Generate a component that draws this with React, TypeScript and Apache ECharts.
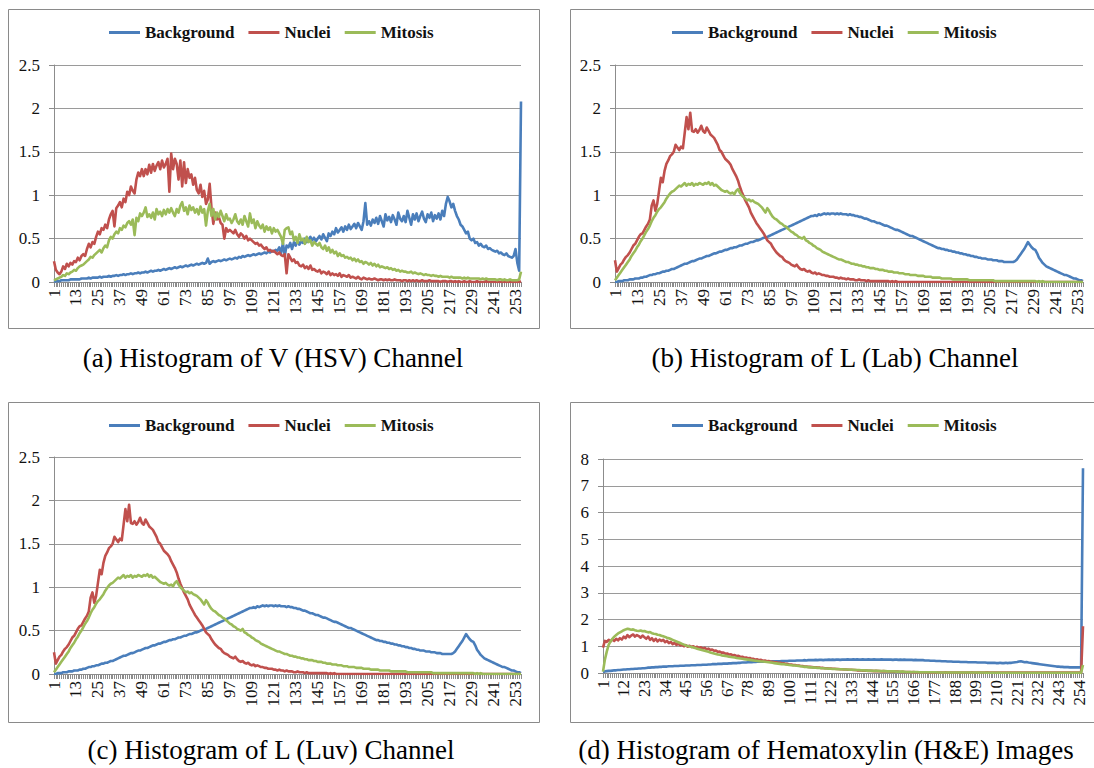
import React, { useEffect, useRef } from "react";
import * as echarts from "echarts";

// Category labels 1..256 (intensity bins)
const CATEGORIES: string[] = Array.from({ length: 256 }, (_, i) => String(i + 1));
const SERIES_NAMES = ["Background", "Nuclei", "Mitosis"];

// (a) V (HSV) channel
const V_BACKGROUND = [
  0.00,0.01,0.01,0.01,0.02,0.02,0.02,0.02,0.02,0.03,0.03,0.03,0.03,0.03,0.03,0.04,
  0.04,0.04,0.04,0.05,0.04,0.05,0.05,0.05,0.05,0.06,0.05,0.06,0.06,0.06,0.07,0.06,
  0.07,0.07,0.08,0.07,0.08,0.08,0.09,0.08,0.09,0.09,0.10,0.09,0.10,0.10,0.11,0.10,
  0.11,0.11,0.12,0.11,0.12,0.13,0.12,0.13,0.13,0.14,0.13,0.14,0.15,0.14,0.15,0.16,
  0.15,0.16,0.17,0.16,0.17,0.18,0.17,0.18,0.19,0.18,0.19,0.20,0.19,0.20,0.21,0.20,
  0.21,0.22,0.21,0.22,0.27,0.21,0.23,0.24,0.23,0.24,0.25,0.24,0.25,0.26,0.25,0.26,
  0.27,0.26,0.27,0.28,0.27,0.29,0.28,0.30,0.29,0.30,0.31,0.30,0.31,0.32,0.31,0.32,
  0.33,0.32,0.33,0.34,0.33,0.35,0.34,0.36,0.35,0.37,0.36,0.40,0.33,0.45,0.30,0.42,
  0.40,0.45,0.38,0.46,0.42,0.48,0.43,0.47,0.45,0.50,0.46,0.49,0.52,0.48,0.51,0.47,
  0.50,0.53,0.49,0.55,0.51,0.47,0.56,0.53,0.58,0.55,0.62,0.57,0.60,0.63,0.58,0.64,
  0.60,0.66,0.61,0.64,0.67,0.62,0.68,0.64,0.60,0.70,0.91,0.66,0.70,0.65,0.72,0.68,
  0.74,0.67,0.76,0.70,0.64,0.78,0.71,0.75,0.69,0.77,0.72,0.66,0.80,0.73,0.70,0.76,
  0.69,0.82,0.74,0.66,0.78,0.72,0.79,0.70,0.76,0.81,0.73,0.69,0.78,0.74,0.80,0.70,
  0.77,0.73,0.79,0.72,0.82,0.76,0.90,0.98,0.93,0.86,0.90,0.82,0.76,0.72,0.66,0.64,
  0.60,0.56,0.58,0.50,0.48,0.50,0.45,0.46,0.42,0.44,0.41,0.40,0.42,0.38,0.39,0.37,
  0.36,0.35,0.36,0.33,0.34,0.32,0.31,0.33,0.30,0.29,0.28,0.30,0.38,0.22,0.13,2.08,
];
const V_NUCLEI = [
  0.24,0.14,0.11,0.09,0.12,0.18,0.15,0.21,0.18,0.22,0.20,0.24,0.23,0.28,0.25,0.30,
  0.32,0.30,0.38,0.44,0.40,0.46,0.44,0.52,0.58,0.55,0.62,0.60,0.66,0.62,0.72,0.78,
  0.82,0.64,0.85,0.88,0.92,0.86,0.96,0.92,1.04,1.00,1.10,1.05,1.02,1.18,1.26,1.22,
  1.30,1.22,1.30,1.24,1.35,1.26,1.36,1.28,1.34,1.38,1.30,1.40,1.32,1.36,1.42,1.04,
  1.48,1.30,1.42,1.36,1.18,1.40,1.10,1.38,1.14,1.30,1.20,1.24,1.12,1.20,1.06,1.02,
  1.12,0.98,1.05,0.90,0.95,1.13,0.85,0.67,0.80,0.72,0.75,0.68,0.66,0.50,0.62,0.58,
  0.60,0.58,0.56,0.60,0.55,0.52,0.56,0.54,0.50,0.53,0.48,0.50,0.48,0.46,0.44,0.45,
  0.42,0.43,0.40,0.38,0.40,0.36,0.37,0.35,0.36,0.34,0.32,0.34,0.31,0.30,0.32,0.10,
  0.32,0.28,0.24,0.26,0.22,0.23,0.19,0.18,0.20,0.16,0.18,0.15,0.19,0.14,0.15,0.13,
  0.12,0.14,0.10,0.12,0.11,0.09,0.12,0.08,0.10,0.08,0.09,0.07,0.10,0.06,0.08,0.07,
  0.06,0.08,0.05,0.06,0.05,0.04,0.06,0.04,0.03,0.05,0.04,0.03,0.04,0.03,0.03,0.04,
  0.03,0.02,0.03,0.03,0.02,0.03,0.02,0.03,0.02,0.02,0.03,0.02,0.02,0.02,0.01,0.02,
  0.02,0.01,0.02,0.01,0.02,0.01,0.02,0.01,0.01,0.02,0.01,0.01,0.01,0.02,0.01,0.01,
  0.01,0.01,0.01,0.00,0.01,0.01,0.01,0.00,0.01,0.01,0.00,0.01,0.00,0.01,0.00,0.00,
  0.01,0.00,0.00,0.01,0.00,0.00,0.00,0.01,0.00,0.00,0.00,0.00,0.01,0.00,0.00,0.00,
  0.00,0.00,0.00,0.00,0.00,0.00,0.00,0.00,0.00,0.00,0.00,0.00,0.00,0.00,0.00,0.01,
];
const V_MITOSIS = [
  0.02,0.03,0.04,0.05,0.06,0.08,0.07,0.10,0.09,0.11,0.12,0.14,0.13,0.16,0.18,0.19,
  0.20,0.22,0.24,0.26,0.29,0.28,0.31,0.33,0.35,0.37,0.34,0.39,0.42,0.40,0.48,0.52,
  0.50,0.55,0.58,0.56,0.62,0.60,0.65,0.63,0.68,0.70,0.66,0.72,0.54,0.74,0.70,0.79,
  0.76,0.80,0.86,0.75,0.78,0.74,0.80,0.72,0.84,0.78,0.81,0.76,0.83,0.78,0.84,0.80,
  0.85,0.80,0.76,0.84,0.80,0.88,0.92,0.82,0.86,0.78,0.88,0.83,0.86,0.80,0.84,0.78,
  0.87,0.80,0.84,0.65,0.82,0.90,0.76,0.84,0.72,0.80,0.75,0.82,0.76,0.70,0.78,0.72,
  0.73,0.68,0.72,0.78,0.70,0.67,0.72,0.66,0.76,0.70,0.64,0.79,0.68,0.72,0.62,0.70,
  0.65,0.62,0.66,0.58,0.64,0.60,0.63,0.56,0.62,0.58,0.60,0.56,0.52,0.44,0.60,0.62,
  0.63,0.55,0.58,0.48,0.52,0.45,0.55,0.48,0.50,0.44,0.52,0.46,0.48,0.42,0.46,0.44,
  0.42,0.45,0.40,0.38,0.42,0.36,0.40,0.34,0.37,0.33,0.35,0.30,0.33,0.30,0.31,0.28,
  0.29,0.27,0.28,0.25,0.27,0.24,0.26,0.23,0.24,0.21,0.23,0.22,0.20,0.22,0.19,0.21,
  0.18,0.20,0.17,0.18,0.17,0.16,0.17,0.15,0.16,0.14,0.15,0.13,0.14,0.12,0.13,0.12,
  0.12,0.11,0.11,0.12,0.10,0.11,0.10,0.09,0.10,0.09,0.08,0.09,0.08,0.08,0.07,0.08,
  0.07,0.07,0.06,0.07,0.06,0.06,0.06,0.06,0.05,0.06,0.05,0.05,0.05,0.05,0.05,0.04,
  0.05,0.04,0.05,0.04,0.04,0.04,0.04,0.04,0.04,0.03,0.04,0.03,0.04,0.03,0.03,0.03,
  0.03,0.03,0.02,0.03,0.03,0.02,0.03,0.02,0.02,0.03,0.02,0.02,0.02,0.02,0.03,0.12,
];

// (b) L (Lab) channel and (c) L (Luv) channel (identical lightness)
const L_BACKGROUND = [
  0.00,0.00,0.01,0.01,0.01,0.02,0.02,0.02,0.03,0.03,0.03,0.04,0.04,0.04,0.05,0.05,
  0.06,0.06,0.07,0.08,0.08,0.09,0.09,0.10,0.10,0.11,0.12,0.12,0.13,0.13,0.14,0.15,
  0.15,0.16,0.17,0.18,0.19,0.20,0.21,0.21,0.22,0.23,0.24,0.24,0.25,0.26,0.27,0.27,
  0.28,0.29,0.30,0.30,0.31,0.32,0.33,0.33,0.34,0.35,0.35,0.36,0.37,0.37,0.38,0.39,
  0.39,0.40,0.40,0.41,0.42,0.42,0.43,0.44,0.44,0.45,0.46,0.46,0.47,0.48,0.48,0.49,
  0.50,0.51,0.51,0.52,0.53,0.54,0.55,0.56,0.57,0.58,0.59,0.60,0.61,0.62,0.63,0.64,
  0.65,0.66,0.67,0.68,0.69,0.70,0.71,0.72,0.73,0.74,0.75,0.76,0.76,0.77,0.76,0.78,
  0.77,0.78,0.79,0.78,0.79,0.78,0.79,0.79,0.78,0.79,0.78,0.79,0.78,0.78,0.78,0.77,
  0.78,0.77,0.77,0.76,0.76,0.75,0.75,0.74,0.73,0.73,0.72,0.71,0.70,0.70,0.69,0.68,
  0.68,0.67,0.66,0.65,0.65,0.64,0.63,0.62,0.61,0.60,0.60,0.59,0.58,0.57,0.56,0.55,
  0.54,0.53,0.53,0.52,0.51,0.50,0.49,0.48,0.47,0.46,0.45,0.44,0.43,0.42,0.41,0.40,
  0.39,0.39,0.38,0.38,0.37,0.37,0.36,0.36,0.35,0.35,0.34,0.34,0.33,0.33,0.32,0.32,
  0.31,0.31,0.30,0.30,0.29,0.29,0.28,0.28,0.27,0.27,0.27,0.26,0.26,0.26,0.25,0.25,
  0.25,0.24,0.24,0.24,0.23,0.23,0.23,0.23,0.23,0.23,0.24,0.26,0.29,0.32,0.35,0.38,
  0.42,0.46,0.43,0.40,0.38,0.37,0.33,0.28,0.25,0.22,0.20,0.18,0.17,0.16,0.15,0.14,
  0.13,0.12,0.11,0.10,0.09,0.08,0.08,0.07,0.06,0.05,0.04,0.04,0.03,0.02,0.02,0.01,
];
const L_NUCLEI = [
  0.25,0.12,0.16,0.20,0.22,0.26,0.29,0.31,0.34,0.38,0.42,0.44,0.48,0.52,0.55,0.56,
  0.60,0.64,0.67,0.72,0.88,0.94,0.82,0.90,1.05,1.20,1.15,1.28,1.36,1.40,1.45,1.47,
  1.50,1.58,1.55,1.52,1.56,1.54,1.72,1.90,1.76,1.95,1.74,1.73,1.76,1.72,1.75,1.80,
  1.74,1.72,1.78,1.74,1.70,1.68,1.66,1.62,1.58,1.52,1.50,1.46,1.42,1.40,1.38,1.35,
  1.30,1.26,1.22,1.17,1.10,1.04,0.99,0.94,0.90,0.86,0.80,0.76,0.72,0.68,0.65,0.62,
  0.59,0.56,0.52,0.48,0.46,0.44,0.40,0.37,0.34,0.32,0.30,0.29,0.26,0.24,0.23,0.22,
  0.20,0.19,0.18,0.20,0.17,0.15,0.14,0.15,0.13,0.12,0.13,0.11,0.10,0.11,0.09,0.10,
  0.09,0.08,0.08,0.07,0.07,0.06,0.06,0.06,0.05,0.05,0.04,0.05,0.04,0.04,0.03,0.04,
  0.03,0.03,0.03,0.02,0.02,0.03,0.02,0.02,0.02,0.01,0.02,0.01,0.01,0.01,0.01,0.01,
  0.01,0.01,0.01,0.01,0.01,0.01,0.00,0.01,0.00,0.01,0.00,0.00,0.00,0.00,0.00,0.00,
  0.00,0.00,0.00,0.00,0.00,0.00,0.00,0.00,0.00,0.00,0.00,0.00,0.00,0.00,0.00,0.00,
  0.00,0.00,0.00,0.00,0.00,0.00,0.00,0.00,0.00,0.00,0.00,0.00,0.00,0.00,0.00,0.00,
  0.00,0.00,0.00,0.00,0.00,0.00,0.00,0.00,0.00,0.00,0.00,0.00,0.00,0.00,0.00,0.00,
  0.00,0.00,0.00,0.00,0.00,0.00,0.00,0.00,0.00,0.00,0.00,0.00,0.00,0.00,0.00,0.00,
  0.00,0.00,0.00,0.00,0.00,0.00,0.00,0.00,0.00,0.00,0.00,0.00,0.00,0.00,0.00,0.00,
  0.00,0.00,0.00,0.00,0.00,0.00,0.00,0.00,0.00,0.00,0.00,0.00,0.00,0.00,0.00,0.00,
];
const L_MITOSIS = [
  0.02,0.05,0.08,0.11,0.14,0.17,0.20,0.23,0.26,0.30,0.33,0.36,0.40,0.43,0.47,0.50,
  0.54,0.58,0.61,0.65,0.70,0.74,0.77,0.81,0.84,0.86,0.89,0.92,0.96,0.99,1.02,1.04,
  1.05,1.07,1.09,1.11,1.10,1.12,1.14,1.11,1.13,1.12,1.14,1.11,1.13,1.12,1.14,1.13,
  1.12,1.14,1.13,1.15,1.12,1.14,1.11,1.12,1.10,1.08,1.06,1.05,1.04,1.05,1.03,1.02,
  1.03,1.01,1.05,1.07,1.03,1.00,0.98,0.96,0.94,0.95,0.93,0.94,0.92,0.91,0.90,0.88,
  0.86,0.83,0.80,0.85,0.82,0.78,0.75,0.73,0.72,0.70,0.68,0.67,0.65,0.64,0.62,0.60,
  0.58,0.57,0.55,0.54,0.52,0.51,0.50,0.52,0.48,0.47,0.45,0.44,0.42,0.41,0.39,0.38,
  0.37,0.35,0.34,0.33,0.32,0.31,0.30,0.29,0.28,0.27,0.26,0.26,0.25,0.24,0.23,0.23,
  0.22,0.21,0.21,0.20,0.20,0.19,0.19,0.18,0.18,0.17,0.17,0.16,0.16,0.16,0.15,0.15,
  0.14,0.14,0.14,0.13,0.13,0.12,0.12,0.12,0.11,0.11,0.11,0.10,0.10,0.10,0.09,0.09,
  0.09,0.08,0.08,0.08,0.08,0.07,0.07,0.07,0.07,0.06,0.06,0.06,0.06,0.05,0.05,0.05,
  0.05,0.05,0.04,0.04,0.04,0.04,0.04,0.04,0.03,0.03,0.03,0.03,0.03,0.03,0.03,0.03,
  0.03,0.02,0.02,0.02,0.02,0.02,0.02,0.02,0.02,0.02,0.02,0.02,0.02,0.02,0.02,0.01,
  0.01,0.01,0.01,0.01,0.01,0.01,0.01,0.01,0.01,0.01,0.01,0.01,0.01,0.01,0.01,0.01,
  0.01,0.01,0.01,0.01,0.01,0.01,0.00,0.01,0.00,0.01,0.00,0.00,0.00,0.00,0.00,0.00,
  0.00,0.00,0.00,0.00,0.00,0.00,0.00,0.00,0.00,0.00,0.00,0.00,0.00,0.00,0.00,0.00,
];

// (d) Hematoxylin (H&E) images
const H_BACKGROUND = [
  0.04,0.06,0.07,0.08,0.08,0.09,0.10,0.10,0.11,0.11,0.12,0.13,0.13,0.14,0.14,0.15,
  0.15,0.16,0.16,0.17,0.17,0.18,0.18,0.19,0.20,0.20,0.21,0.21,0.22,0.22,0.23,0.23,
  0.24,0.24,0.24,0.25,0.25,0.25,0.26,0.26,0.26,0.27,0.27,0.27,0.28,0.28,0.28,0.29,
  0.29,0.29,0.30,0.30,0.30,0.31,0.31,0.31,0.32,0.32,0.33,0.33,0.33,0.34,0.34,0.34,
  0.35,0.35,0.35,0.36,0.36,0.37,0.37,0.37,0.38,0.38,0.39,0.39,0.39,0.40,0.40,0.40,
  0.41,0.41,0.42,0.42,0.42,0.42,0.43,0.43,0.43,0.43,0.44,0.44,0.44,0.44,0.44,0.45,
  0.45,0.45,0.45,0.46,0.46,0.46,0.46,0.47,0.47,0.47,0.47,0.48,0.47,0.48,0.48,0.48,
  0.48,0.49,0.48,0.49,0.49,0.48,0.49,0.49,0.50,0.49,0.50,0.49,0.50,0.50,0.49,0.50,
  0.50,0.50,0.51,0.50,0.50,0.51,0.50,0.51,0.50,0.50,0.51,0.50,0.50,0.51,0.50,0.50,
  0.51,0.50,0.50,0.50,0.51,0.50,0.50,0.50,0.50,0.50,0.49,0.50,0.50,0.49,0.50,0.49,
  0.50,0.49,0.49,0.49,0.49,0.48,0.49,0.48,0.48,0.48,0.48,0.47,0.47,0.47,0.46,0.46,
  0.46,0.45,0.45,0.45,0.44,0.44,0.44,0.43,0.43,0.43,0.42,0.42,0.42,0.42,0.41,0.41,
  0.41,0.41,0.40,0.40,0.40,0.40,0.40,0.39,0.39,0.39,0.39,0.39,0.38,0.38,0.38,0.38,
  0.38,0.37,0.37,0.38,0.37,0.37,0.38,0.37,0.38,0.38,0.39,0.40,0.41,0.43,0.44,0.42,
  0.40,0.41,0.39,0.38,0.37,0.36,0.35,0.34,0.33,0.32,0.31,0.30,0.29,0.28,0.27,0.26,
  0.25,0.24,0.24,0.23,0.23,0.22,0.22,0.22,0.21,0.21,0.21,0.21,0.21,0.21,0.21,7.65,
];
const H_NUCLEI = [
  0.95,1.20,1.16,1.24,1.18,1.26,1.20,1.28,1.22,1.30,1.25,1.36,1.30,1.42,1.34,1.40,
  1.44,1.36,1.42,1.38,1.32,1.40,1.34,1.28,1.36,1.24,1.30,1.20,1.28,1.18,1.25,1.20,
  1.24,1.15,1.20,1.12,1.16,1.08,1.13,1.05,1.10,1.03,1.06,1.00,1.04,0.98,1.02,0.97,
  1.00,0.95,0.98,0.93,0.96,0.91,0.94,0.89,0.91,0.86,0.88,0.83,0.84,0.79,0.80,0.76,
  0.76,0.72,0.73,0.69,0.70,0.66,0.67,0.63,0.64,0.60,0.61,0.57,0.58,0.55,0.56,0.53,
  0.53,0.50,0.51,0.48,0.49,0.46,0.47,0.44,0.45,0.42,0.42,0.40,0.40,0.38,0.38,0.36,
  0.36,0.34,0.34,0.32,0.32,0.30,0.30,0.28,0.28,0.26,0.26,0.24,0.24,0.23,0.23,0.22,
  0.21,0.21,0.20,0.20,0.19,0.19,0.18,0.18,0.17,0.17,0.16,0.16,0.15,0.15,0.14,0.14,
  0.13,0.13,0.12,0.12,0.12,0.11,0.11,0.10,0.10,0.10,0.09,0.09,0.09,0.08,0.08,0.08,
  0.07,0.08,0.07,0.07,0.06,0.07,0.06,0.06,0.06,0.05,0.06,0.05,0.05,0.05,0.04,0.05,
  0.04,0.04,0.04,0.04,0.03,0.04,0.03,0.03,0.03,0.03,0.03,0.03,0.03,0.02,0.03,0.02,
  0.02,0.03,0.02,0.02,0.02,0.02,0.03,0.02,0.02,0.02,0.02,0.02,0.02,0.02,0.02,0.02,
  0.02,0.02,0.02,0.02,0.03,0.02,0.02,0.02,0.02,0.02,0.02,0.02,0.03,0.02,0.02,0.02,
  0.02,0.02,0.02,0.02,0.02,0.02,0.02,0.02,0.02,0.02,0.02,0.02,0.02,0.02,0.02,0.02,
  0.02,0.02,0.02,0.02,0.02,0.02,0.02,0.02,0.02,0.02,0.02,0.02,0.02,0.02,0.02,0.02,
  0.02,0.02,0.02,0.02,0.02,0.02,0.02,0.02,0.02,0.02,0.02,0.02,0.02,0.02,0.02,1.75,
];
const H_MITOSIS = [
  0.05,0.50,0.80,1.05,1.18,1.28,1.36,1.42,1.48,1.52,1.56,1.60,1.63,1.65,1.64,1.62,
  1.63,1.60,1.58,1.57,1.59,1.56,1.57,1.54,1.52,1.53,1.49,1.47,1.46,1.43,1.42,1.39,
  1.37,1.35,1.32,1.30,1.27,1.24,1.21,1.18,1.15,1.12,1.09,1.06,1.03,1.01,0.99,0.97,
  0.95,0.93,0.91,0.89,0.87,0.85,0.83,0.81,0.79,0.77,0.75,0.73,0.71,0.69,0.68,0.66,
  0.65,0.64,0.63,0.61,0.60,0.59,0.58,0.56,0.55,0.54,0.53,0.52,0.51,0.50,0.49,0.48,
  0.47,0.46,0.45,0.44,0.43,0.43,0.42,0.41,0.40,0.39,0.38,0.37,0.36,0.35,0.34,0.33,
  0.33,0.32,0.31,0.30,0.29,0.28,0.28,0.27,0.26,0.25,0.24,0.23,0.23,0.22,0.21,0.21,
  0.20,0.20,0.19,0.19,0.18,0.18,0.17,0.17,0.16,0.16,0.15,0.15,0.15,0.14,0.14,0.14,
  0.13,0.13,0.13,0.12,0.12,0.12,0.11,0.11,0.11,0.10,0.10,0.10,0.09,0.09,0.09,0.08,
  0.08,0.08,0.08,0.07,0.07,0.07,0.07,0.06,0.06,0.06,0.06,0.06,0.05,0.05,0.05,0.05,
  0.05,0.04,0.04,0.04,0.04,0.04,0.04,0.04,0.03,0.03,0.03,0.03,0.03,0.03,0.03,0.03,
  0.03,0.03,0.02,0.02,0.02,0.02,0.02,0.02,0.02,0.02,0.02,0.02,0.02,0.02,0.02,0.02,
  0.02,0.02,0.02,0.02,0.02,0.02,0.02,0.02,0.01,0.02,0.02,0.01,0.02,0.01,0.01,0.02,
  0.01,0.01,0.02,0.01,0.01,0.01,0.01,0.01,0.01,0.01,0.01,0.01,0.01,0.01,0.01,0.01,
  0.01,0.01,0.01,0.01,0.01,0.01,0.01,0.01,0.01,0.01,0.01,0.01,0.01,0.01,0.01,0.01,
  0.01,0.01,0.01,0.01,0.01,0.01,0.01,0.01,0.01,0.01,0.01,0.01,0.01,0.01,0.01,0.30,
];

// ---- styling / layout (kept apart from the data) ----
const COLORS = ["#4A7EBB", "#C0504D", "#9BBB59"];
const SERIF = "'Liberation Serif', 'Times New Roman', serif";
const GRID_COLOR = "#9a9a9a";
const AXIS_COLOR = "#8c8c8c";

type Panel = {
  series: number[][];
  yMax: number;
  yInterval: number;
  labelInterval: number;
  grid: { left: number; top: number; width: number; height: number };
  legend: { left: number; top: number };
  box: { x: number; y: number; width: number; height: number };
  caption: { text: string; x: number; y: number };
};

const PANELS: Panel[] = [
  {
    series: [V_BACKGROUND, V_NUCLEI, V_MITOSIS],
    yMax: 2.5, yInterval: 0.5, labelInterval: 11,
    grid: { left: 54, top: 65, width: 467, height: 217 },
    legend: { left: 109, top: 24 },
    box: { x: 8.5, y: 9.5, width: 531, height: 319 },
    caption: { text: "(a) Histogram of V (HSV) Channel", x: 273, y: 358 },
  },
  {
    series: [L_BACKGROUND, L_NUCLEI, L_MITOSIS],
    yMax: 2.5, yInterval: 0.5, labelInterval: 11,
    grid: { left: 615, top: 65, width: 468, height: 217 },
    legend: { left: 672, top: 24 },
    box: { x: 570.5, y: 9.5, width: 540, height: 319 },
    caption: { text: "(b) Histogram of L (Lab) Channel", x: 835, y: 358 },
  },
  {
    series: [L_BACKGROUND, L_NUCLEI, L_MITOSIS],
    yMax: 2.5, yInterval: 0.5, labelInterval: 11,
    grid: { left: 54, top: 457, width: 467, height: 217 },
    legend: { left: 109, top: 417 },
    box: { x: 8.5, y: 402.5, width: 531, height: 320 },
    caption: { text: "(c) Histogram of L (Luv) Channel", x: 271, y: 750 },
  },
  {
    series: [H_BACKGROUND, H_NUCLEI, H_MITOSIS],
    yMax: 8, yInterval: 1, labelInterval: 10,
    grid: { left: 603, top: 459, width: 480, height: 214 },
    legend: { left: 672, top: 417 },
    box: { x: 570.5, y: 402.5, width: 540, height: 320 },
    caption: { text: "(d) Histogram of Hematoxylin (H&E) Images", x: 826, y: 750 },
  },
];

function buildOption() {
  const grid: any[] = [];
  const xAxis: any[] = [];
  const yAxis: any[] = [];
  const legend: any[] = [];
  const series: any[] = [];
  const graphic: any[] = [];

  PANELS.forEach((p, i) => {
    grid.push({ ...p.grid, containLabel: false, outerBoundsMode: "none" });
    xAxis.push({
      type: "category",
      gridIndex: i,
      data: CATEGORIES,
      boundaryGap: false,
      axisLine: { show: true, lineStyle: { color: AXIS_COLOR, width: 1 } },
      axisTick: { show: true, interval: 0, length: 5, lineStyle: { color: AXIS_COLOR } },
      axisLabel: {
        interval: p.labelInterval,
        rotate: 90,
        margin: 7,
        fontFamily: SERIF,
        fontSize: 17,
        color: "#111",
      },
      splitLine: { show: false },
    });
    yAxis.push({
      type: "value",
      gridIndex: i,
      min: 0,
      max: p.yMax,
      interval: p.yInterval,
      axisLine: { show: true, lineStyle: { color: AXIS_COLOR, width: 1 } },
      axisTick: { show: true, length: 5, lineStyle: { color: AXIS_COLOR } },
      axisLabel: { margin: 14, fontFamily: SERIF, fontSize: 17, color: "#111" },
      splitLine: { show: true, lineStyle: { color: GRID_COLOR, width: 1 } },
    });
    legend.push({
      left: p.legend.left,
      top: p.legend.top,
      padding: 0,
      orient: "horizontal",
      itemWidth: 31,
      itemHeight: 3,
      itemGap: 14,
      selectedMode: false,
      data: SERIES_NAMES.map((n) => ({ name: n, icon: "rect" })),
      textStyle: { fontFamily: SERIF, fontWeight: "bold", fontSize: 17, color: "#111" },
    });
    p.series.forEach((values, k) => {
      series.push({
        type: "line",
        name: SERIES_NAMES[k],
        xAxisIndex: i,
        yAxisIndex: i,
        data: values,
        symbol: "none",
        showSymbol: false,
        silent: true,
        z: 2 + k,
        lineStyle: { color: COLORS[k], width: 2.6, join: "round" },
        itemStyle: { color: COLORS[k] },
      });
    });
    graphic.push({
      type: "rect",
      silent: true,
      z: -1,
      shape: { ...p.box },
      style: { fill: "#fff", stroke: "#8a8a8a", lineWidth: 1 },
    });
    graphic.push({
      type: "text",
      silent: true,
      x: p.caption.x,
      y: p.caption.y,
      style: {
        text: p.caption.text,
        fontFamily: SERIF,
        fontSize: 27,
        fill: "#000",
        align: "center",
        verticalAlign: "middle",
      },
    });
  });

  return {
    animation: false,
    backgroundColor: "#fff",
    grid,
    xAxis,
    yAxis,
    legend,
    series,
    graphic: { elements: graphic },
  };
}

export default function App() {
  const ref = useRef<HTMLDivElement>(null);
  useEffect(() => {
    if (!ref.current) return;
    const chart = echarts.init(ref.current, null, { renderer: "svg" });
    chart.setOption(buildOption() as any);
    return () => chart.dispose();
  }, []);
  return (
    <div
      ref={ref}
      style={{ position: "fixed", left: 0, top: 0, width: 1094, height: 768, background: "#fff" }}
    />
  );
}
